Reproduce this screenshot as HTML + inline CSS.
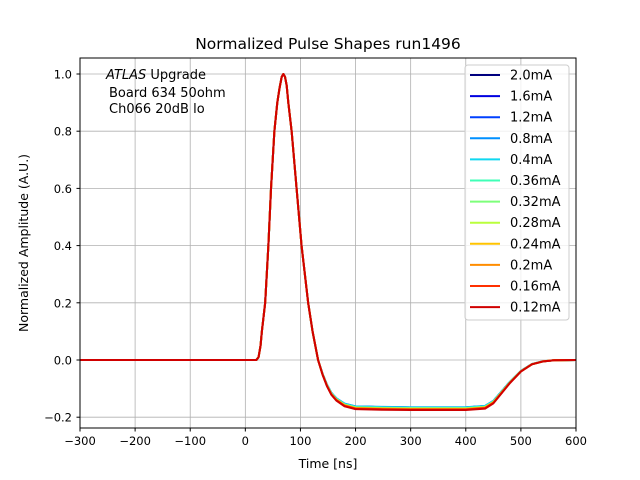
<!DOCTYPE html>
<html><head><meta charset="utf-8"><style>
body{margin:0;background:#fff;}
svg{display:block;font-family:"DejaVu Sans","Liberation Sans",sans-serif;}
</style></head><body>
<svg id="chart" width="640" height="480" xmlns="http://www.w3.org/2000/svg">
<rect width="640" height="480" fill="#fff"/>
<text x="328" y="49" font-size="15.5" text-anchor="middle">Normalized Pulse Shapes run1496</text>
<g id="grid"></g>
<g id="series" clip-path="url(#clip)"></g>
<defs><clipPath id="clip"><rect x="80" y="58" width="496" height="370"/></clipPath></defs>
<rect x="80" y="58" width="496" height="370" fill="none" stroke="#000" stroke-width="1"/>
<g id="ticks"></g>
<text x="328" y="468" font-size="12.5" text-anchor="middle">Time [ns]</text>
<text x="28" y="243" font-size="12.5" text-anchor="middle" transform="rotate(-90 28 243)">Normalized Amplitude (A.U.)</text>
<g font-size="13">
<text x="106" y="79"><tspan font-style="italic">ATLAS</tspan> Upgrade</text>
<text x="109" y="97">Board 634 50ohm</text>
<text x="109" y="113">Ch066 20dB lo</text>
</g>
<g id="legend">
<rect x="465" y="65" width="104" height="255" rx="3" fill="#fff" fill-opacity="0.8" stroke="#ccc"/>
</g>
</svg>
<script>
const labels=["2.0mA","1.6mA","1.2mA","0.8mA","0.4mA","0.36mA","0.32mA","0.28mA","0.24mA","0.2mA","0.16mA","0.12mA"];
const colors=["#00007f","#0000e0","#0040ff","#0090ff","#10d8f0","#40ffb7","#7dff7a","#baff3c","#ffc400","#ff8d00","#ff3000","#d00000"];
const undershoot=[-0.166,-0.166,-0.166,-0.165,-0.166,-0.168,-0.169,-0.17,-0.171,-0.172,-0.173,-0.175];
const times=[-300,0,20,24,27.6,30,33,36,41.8,46.6,52.7,58,62,66,69,72,75,78,84,93,102,114,122,132,140,148,156,165,180,200,250,300,400,435,450,465,480,500,520,540,560,600];
const shape=[0,0,0,0.01,0.05,0.1,0.15,0.2,0.4,0.6,0.8,0.9,0.95,0.99,1.0,0.99,0.96,0.9,0.8,0.6,0.4,0.2,0.1,0.0,-0.05,-0.09,-0.12,-0.14,-0.16,-0.17,-0.172,-0.173,-0.173,-0.168,-0.15,-0.115,-0.08,-0.04,-0.015,-0.005,-0.001,0];
const xTicks=[-300,-200,-100,0,100,200,300,400,500,600];
const yTicks=[-0.2,0.0,0.2,0.4,0.6,0.8,1.0];
const xs=t=>80+(t+300)*496/900;
const ys=v=>360-v*286;
const NS="http://www.w3.org/2000/svg";
function mk(tag,attrs,parent){const e=document.createElementNS(NS,tag);for(const k in attrs)e.setAttribute(k,attrs[k]);parent.appendChild(e);return e;}
const grid=document.getElementById('grid'),ticks=document.getElementById('ticks');
xTicks.forEach(t=>{const x=xs(t);
 const g=mk('line',{x1:x,x2:x,y1:58,y2:428,stroke:'#b0b0b0','stroke-width':0.8},grid);
 
 
 mk('line',{x1:x,x2:x,y1:428,y2:431.5,stroke:'#000'},ticks);
 const tx=mk('text',{x:x,y:445,'font-size':11.5,'text-anchor':'middle'},ticks);tx.textContent=String(t).replace('-','\u2212');
 
 
});
yTicks.forEach(v=>{const y=ys(v);
 const g=mk('line',{x1:80,x2:576,y1:y,y2:y,stroke:'#b0b0b0','stroke-width':0.8},grid);
 
 
 mk('line',{x1:76.5,x2:80,y1:y,y2:y,stroke:'#000'},ticks);
 const tx=mk('text',{x:72,y:y+4.5,'font-size':11.5,'text-anchor':'end'},ticks);tx.textContent=v.toFixed(1).replace('-','\u2212');
 
 
});
const ser=document.getElementById('series'),leg=document.getElementById('legend');
labels.forEach((lab,i)=>{
 const minS=-0.173;
 const pts=times.map((t,j)=>{let v=shape[j];if(v<0)v=v*undershoot[i]/minS;return xs(t).toFixed(2)+','+ys(v).toFixed(2);}).join(' ');
 const p=mk('polyline',{points:pts,fill:'none',stroke:colors[i],'stroke-width':2,'stroke-linejoin':'round'},ser);
 
 
 const y=75+i*21.1;
 const l=mk('line',{x1:470,x2:500,y1:y,y2:y,stroke:colors[i],'stroke-width':2},leg);
 
 
 const t=mk('text',{x:510,y:y+4.5,'font-size':13},leg);t.textContent=lab;
 
 
});
</script>
</body></html>
